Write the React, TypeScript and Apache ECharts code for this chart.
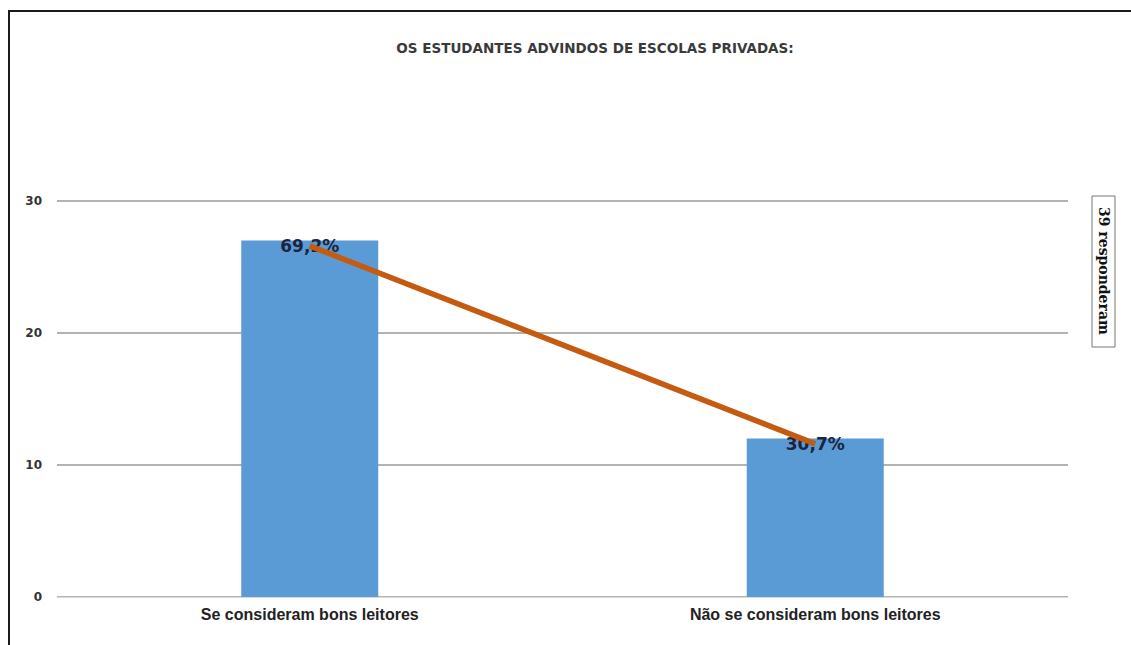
import React, { useEffect, useRef } from "react";
import * as echarts from "echarts";

const categories = ["Se consideram bons leitores", "Não se consideram bons leitores"];
const counts = [27, 12];
const percentLabels = ["69,2%", "30,7%"];
const yTicks = [0, 10, 20, 30];
const titleText = "OS ESTUDANTES ADVINDOS DE ESCOLAS PRIVADAS:";
const sideNote = "39 responderam";

export default function App() {
  const ref = useRef<HTMLDivElement>(null);
  useEffect(() => {
    if (!ref.current) return;
    const chart = echarts.init(ref.current, undefined, { renderer: "svg" });
    chart.setOption({
      animation: false,
      backgroundColor: "#ffffff",
      title: {
        text: titleText,
        left: 590,
        top: 36,
        textAlign: "center",
        textStyle: { fontFamily: "DejaVu Sans, sans-serif", fontSize: 13.5, fontWeight: "bold", color: "#3a3a3a" },
      },
      grid: { left: 57, right: 63, top: 201, bottom: 48, containLabel: false },
      xAxis: {
        type: "category",
        data: categories,
        axisLine: { show: true, lineStyle: { color: "#d9d9d9", width: 1 } },
        axisTick: { show: false },
        axisLabel: {
          margin: 9,
          fontFamily: "Arial, Liberation Sans, sans-serif",
          fontSize: 16,
          fontWeight: "bold",
          color: "#222222",
        },
      },
      yAxis: {
        type: "value",
        min: yTicks[0],
        max: yTicks[yTicks.length - 1],
        interval: 10,
        axisLine: { show: false },
        axisTick: { show: false },
        splitLine: { lineStyle: { color: "#9a9a9a", width: 1.5 } },
        axisLabel: {
          margin: 15,
          fontFamily: "DejaVu Sans, sans-serif",
          fontSize: 12,
          fontWeight: "bold",
          color: "#333333",
        },
      },
      series: [
        {
          type: "bar",
          data: counts,
          barWidth: 137,
          itemStyle: { color: "#5B9BD5" },
          label: {
            show: true,
            position: "insideTop",
            distance: 0,
            offset: [0, -3],
            formatter: (p: any) => percentLabels[p.dataIndex],
            fontFamily: "DejaVu Sans, sans-serif",
            fontSize: 17,
            fontWeight: "bold",
            color: "#1b2440",
          },
          z: 2,
        },
        {
          type: "line",
          data: counts.map((v) => v - 0.4),
          symbol: "none",
          lineStyle: { color: "#C55A11", width: 5.5 },
          z: 3,
        },
      ],
      graphic: [
        {
          type: "polyline",
          shape: { points: [[9, 645], [9, 11], [1131, 11]] },
          style: { stroke: "#1a1a1a", lineWidth: 2, fill: "none" },
          silent: true,
        },
        {
          type: "rect",
          shape: { x: 1092, y: 196, width: 23, height: 151 },
          style: { stroke: "#777777", lineWidth: 1, fill: "#ffffff" },
        },
        {
          type: "text",
          x: 1103.5,
          y: 207,
          rotation: -Math.PI / 2,
          style: {
            text: sideNote,
            font: "bold 14px 'DejaVu Serif', 'Liberation Serif', serif",
            fill: "#111111",
            align: "left",
            verticalAlign: "middle",
          },
        },
      ],
    });
    return () => chart.dispose();
  }, []);
  return (
    <div style={{ position: "fixed", left: 0, top: 0, width: 1131, height: 645 }}>
      <div ref={ref} style={{ width: 1131, height: 645 }} />
    </div>
  );
}
